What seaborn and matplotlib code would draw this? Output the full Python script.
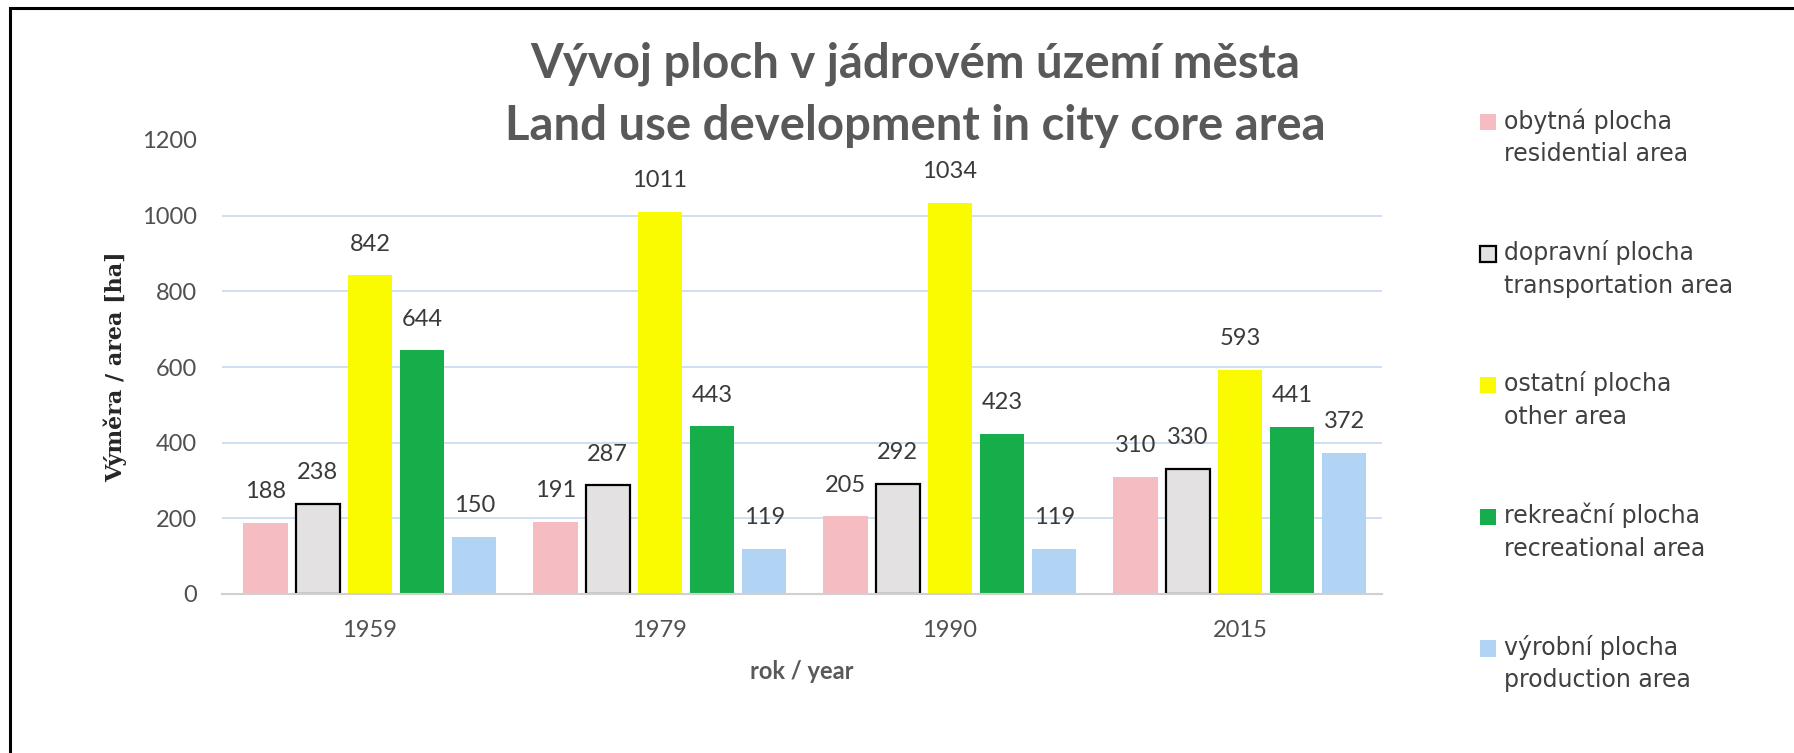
import numpy as np
import pandas as pd
import seaborn as sns
import matplotlib.pyplot as plt
import matplotlib.patches as mpatches
from matplotlib.legend_handler import HandlerPatch

# data
roky = ['1959', '1979', '1990', '2015']
kategorie = ['obytná plocha\nresidential area',
             'dopravní plocha\ntransportation area',
             'ostatní plocha\nother area',
             'rekreační plocha\nrecreational area',
             'výrobní plocha\nproduction area']
obytna = [188, 191, 205, 310]
dopravni = [238, 287, 292, 330]
ostatni = [842, 1011, 1034, 593]
rekreacni = [644, 443, 423, 441]
vyrobni = [150, 119, 119, 372]
barvy = ['#F5BDC2', '#E3E1E1', '#FAFA00', '#16AE4A', '#B1D4F5']
osa_y = [0, 200, 400, 600, 800, 1000, 1200]

df = pd.DataFrame({
    'rok': roky * len(kategorie),
    'kategorie': np.repeat(kategorie, len(roky)),
    'plocha': obytna + dopravni + ostatni + rekreacni + vyrobni,
})

sns.set_theme(style="white")
plt.rcParams['font.family'] = ['Lato', 'DejaVu Sans']

fig = plt.figure(figsize=(17.94, 7.53), dpi=100)
ax = fig.add_axes([222 / 1794, 1 - 594 / 753, 1160 / 1794, 454 / 753])

sns.barplot(data=df, x='rok', y='plocha', hue='kategorie', order=roky,
            hue_order=kategorie, palette=barvy, width=0.9, gap=0.15,
            saturation=1, linewidth=0, errorbar=None, legend=False, ax=ax)

# dopravni plocha ma cerny okraj
for p in ax.containers[1]:
    p.set_edgecolor('black')
    p.set_linewidth(1.6)

for c in ax.containers:
    ax.bar_label(c, padding=15, fontsize=17, color='#3A3A3A')

ax.set_xlim(-0.51, 3.49)
ax.set_ylim(0, 1200)
ax.set_yticks(osa_y)
for y in osa_y[1:-1]:
    ax.axhline(y, color='#C9DDF0', lw=1.3, zorder=0)

for s in ['top', 'right', 'left']:
    ax.spines[s].set_visible(False)
ax.spines['bottom'].set_color('#D0D0D0')
ax.spines['bottom'].set_linewidth(1.5)

ax.tick_params(axis='both', length=0, labelsize=17, labelcolor='#505050')
ax.tick_params(axis='x', pad=19)
ax.tick_params(axis='y', pad=18)

ax.set_xlabel('rok / year', fontsize=17, fontweight='bold', color='#595959')
ax.xaxis.set_label_coords(0.5, -0.145)
ax.set_ylabel('Výměra / area [ha]', fontsize=16, fontweight='bold',
              family='DejaVu Serif', color='#262626')
ax.yaxis.set_label_coords(-0.082, 0.5)

fig.text(915 / 1794, 1 - 77 / 753, 'Vývoj ploch v jádrovém území města',
         ha='center', va='baseline', fontsize=34, fontweight='bold', color='#595959')
fig.text(915 / 1794, 1 - 140 / 753, 'Land use development in city core area',
         ha='center', va='baseline', fontsize=34, fontweight='bold', color='#595959')


# ctverecek v legende zarovnany s prvnim radkem textu
def posunuty_ctverec(legend, orig_handle, xdescent, ydescent, width, height, fontsize):
    return mpatches.Rectangle((-xdescent, -ydescent + 0.69 * fontsize), width, height)


handles = [c.patches[0] for c in ax.containers]
leg = fig.legend(handles, kategorie, loc='upper left',
                 bbox_to_anchor=(1480 / 1794, 1 - 108 / 753), frameon=False,
                 prop={'family': 'DejaVu Sans', 'size': 17}, labelcolor='#404040',
                 handlelength=0.68, handleheight=0.68, handletextpad=0.35,
                 labelspacing=3.13, borderpad=0, borderaxespad=0,
                 handler_map={mpatches.Rectangle: HandlerPatch(patch_func=posunuty_ctverec)})
for t in leg.get_texts():
    t.set_linespacing(1.45)

# cerny ramecek nahore a vlevo
fig.add_artist(mpatches.Rectangle((10 / 1794, -0.5), 2, 0.5 + 1 - 8 / 753,
                                  transform=fig.transFigure, fill=False,
                                  ec='black', lw=2.2))

fig.savefig('out.png', dpi=100)
